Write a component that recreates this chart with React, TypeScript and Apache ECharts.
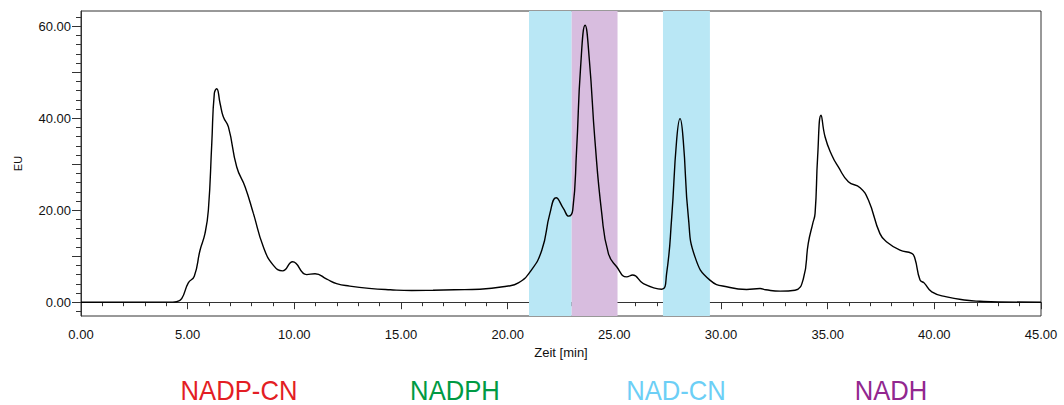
import React, { useEffect, useRef } from "react";
import * as echarts from "echarts";

const timeMin = [0, 4.3, 4.48, 4.72, 5.03, 5.31, 5.58, 5.81, 5.97, 6.13, 6.25, 6.36, 6.52, 6.67, 6.91, 7.3, 7.69, 8.08, 8.55, 9.02, 9.45, 9.92, 10.58, 10.97, 11.52, 11.98, 12.6, 13.5, 14.5, 15.5, 16.5, 17.5, 18.7, 19.95, 20.5, 21.05, 21.6, 21.98, 22.27, 22.61, 22.86, 23.05, 23.23, 23.42, 23.63, 23.83, 24.09, 24.41, 24.72, 25.11, 25.58, 25.86, 26.36, 27.22, 27.45, 27.69, 27.92, 28.08, 28.23, 28.47, 28.78, 29.48, 30.42, 31.2, 31.83, 32.1, 32.77, 33.47, 33.86, 34.09, 34.3, 34.41, 34.53, 34.69, 34.88, 35.19, 35.5, 35.97, 36.52, 36.91, 37.45, 37.77, 38.39, 38.94, 39.09, 39.33, 39.52, 39.88, 40.58, 41.52, 42.14, 43, 45];
const euValues = [0, 0.02, 0.1, 0.8, 4.2, 5.65, 11.3, 14.9, 20, 34.5, 45.4, 46.4, 43.2, 40.3, 38.1, 29.4, 25.1, 19.3, 12.0, 8.0, 6.8, 8.8, 6.0, 6.2, 5.0, 4.05, 3.5, 3.0, 2.7, 2.55, 2.6, 2.7, 2.83, 3.48, 4.2, 6.6, 11.3, 19.3, 22.7, 20.4, 18.7, 20, 33, 51.2, 60.2, 52.6, 35.2, 19.3, 10.6, 7.7, 5.5, 5.9, 4.06, 2.83, 6.2, 18.5, 35.2, 39.9, 35.2, 18.5, 9.85, 4.8, 3.2, 2.76, 2.97, 2.7, 2.4, 2.6, 5.1, 12.8, 17.1, 19.3, 31.6, 40.65, 35.9, 32, 29.4, 26.2, 24.9, 22.2, 14.9, 13.1, 11.3, 10.6, 9.5, 4.8, 4.2, 2.25, 1.16, 0.43, 0.2, 0.05, 0];

const bandRanges = [
  { from: 21.0, to: 23.0, color: "#b9e7f5" },
  { from: 23.0, to: 25.15, color: "#d8bddf" },
  { from: 27.28, to: 29.48, color: "#b9e7f5" },
];

const yLabelValues = [0, 20, 40, 60];
const yMajorTicks = [0, 10, 20, 30, 40, 50, 60];
const yMinorTicks = [-2, 2, 4, 6, 8, 12, 14, 16, 18, 22, 24, 26, 28, 32, 34, 36, 38, 42, 44, 46, 48, 52, 54, 56, 58, 62];

const legendNames = ["NADP-CN", "NADPH", "NAD-CN", "NADH"];
const legendColors = ["#e31e24", "#009a44", "#6ccff6", "#92278f"];
const legendCenters = [239, 455, 676, 891];

const Y_MIN = -3;
const Y_MAX = 63.3;

export default function App() {
  const ref = useRef<HTMLDivElement>(null);
  useEffect(() => {
    if (!ref.current) return;
    const chart = echarts.init(ref.current, null, { renderer: "svg" });
    const font = "Liberation Sans, Arial, sans-serif";
    const axisColor = "#333";
    const data = timeMin.map((t, i) => [t, euValues[i]]);
    chart.setOption({
      animation: false,
      grid: { left: 81, right: 23, top: 11, bottom: 89, show: true, borderColor: axisColor, borderWidth: 1, backgroundColor: "transparent" },
      xAxis: {
        type: "value",
        min: 0,
        max: 45,
        interval: 5,
        name: "Zeit [min]",
        nameLocation: "middle",
        nameGap: 30,
        nameTextStyle: { fontFamily: font, fontSize: 13, color: "#111" },
        axisLine: { show: true, lineStyle: { color: axisColor, width: 1 } },
        axisTick: { show: true, length: 7, lineStyle: { color: axisColor } },
        minorTick: { show: true, splitNumber: 5, length: 4, lineStyle: { color: axisColor } },
        splitLine: { show: false },
        axisLabel: { formatter: (v: number) => v.toFixed(2), fontFamily: font, fontSize: 13, color: "#111", margin: 12 },
      },
      yAxis: [
        {
          type: "value",
          min: Y_MIN,
          max: Y_MAX,
          name: "EU",
          nameLocation: "middle",
          nameGap: 58,
          nameRotate: 90,
          nameTextStyle: { fontFamily: font, fontSize: 11, color: "#111" },
          axisLine: { show: true, lineStyle: { color: axisColor, width: 1 } },
          axisTick: { show: true, length: 9, customValues: yMajorTicks, lineStyle: { color: axisColor } },
          splitLine: { show: false },
          axisLabel: { customValues: yLabelValues, formatter: (v: number) => v.toFixed(2), fontFamily: font, fontSize: 13, color: "#111", margin: 10 },
        },
        {
          type: "value",
          position: "left",
          min: Y_MIN,
          max: Y_MAX,
          axisLine: { show: false },
          axisTick: { show: true, length: 5, customValues: yMinorTicks, lineStyle: { color: axisColor } },
          splitLine: { show: false },
          axisLabel: { show: false },
        },
      ],
      series: [
        {
          type: "line",
          data,
          yAxisIndex: 0,
          smooth: 0.5,
          symbol: "none",
          lineStyle: { color: "#000", width: 1.4 },
          z: 3,
          markArea: {
            silent: true,
            data: bandRanges.map((b) => [
              { xAxis: b.from, itemStyle: { color: b.color } },
              { xAxis: b.to },
            ]),
          },
        },
      ],
      graphic: legendNames.map((n, i) => ({
        type: "text",
        x: legendCenters[i],
        y: 391,
        scaleX: 0.95,
        originX: 0,
        originY: 0,
        style: { text: n, fill: legendColors[i], font: `27px ${font}`, textAlign: "center", textVerticalAlign: "middle" },
      })),
    });
    return () => chart.dispose();
  }, []);
  return <div ref={ref} style={{ position: "absolute", left: 0, top: 0, width: 1064, height: 405 }} />;
}
